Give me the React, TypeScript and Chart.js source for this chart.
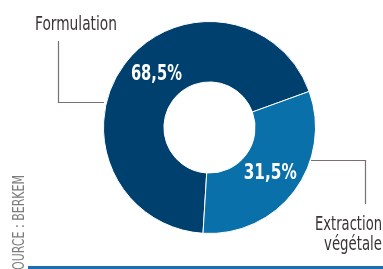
import React, { useEffect, useRef } from "react";
import { Chart, registerables } from "chart.js";

Chart.register(...registerables);

const categories = ["Formulation", "Extraction végétale"];
const shares = [68.5, 31.5];
const valueLabels = ["68,5%", "31,5%"];
const sliceColors = ["#00406f", "#0a70a9"];
const sourceText = "SOURCE : BERKEM";

const NARROW = "'Liberation Sans Narrow', 'DejaVu Sans Condensed', 'Roboto Condensed', sans-serif";

function fitText(
  ctx: CanvasRenderingContext2D,
  text: string,
  x: number,
  y: number,
  align: CanvasTextAlign,
  width: number
) {
  const w = ctx.measureText(text).width;
  const sx = w > 0 ? width / w : 1;
  ctx.save();
  ctx.translate(x, y);
  ctx.scale(sx, 1);
  ctx.textAlign = align;
  ctx.fillText(text, 0, 0);
  ctx.restore();
}

const decorPlugin = {
  id: "decor",
  afterDatasetsDraw(chart: any) {
    const ctx: CanvasRenderingContext2D = chart.ctx;
    const meta = chart.getDatasetMeta(0);
    const arcs = meta.data as any[];
    const labelAngles: (number | null)[] = [315.5, null];
    const labelWidths = [51, 53];

    // value labels inside the ring
    ctx.save();
    ctx.fillStyle = "#ffffff";
    ctx.font = `bold 21px ${NARROW}`;
    ctx.textBaseline = "middle";
    arcs.forEach((arc, i) => {
      const p = arc.getProps(["x", "y", "startAngle", "endAngle", "innerRadius", "outerRadius"], true);
      const a =
        labelAngles[i] != null
          ? ((labelAngles[i] as number) - 90) * (Math.PI / 180)
          : (p.startAngle + p.endAngle) / 2;
      const r = (p.innerRadius + p.outerRadius) / 2;
      const lx = p.x + Math.cos(a) * r;
      const ly = p.y + Math.sin(a) * r;
      fitText(ctx, valueLabels[i], lx, ly + 1, "center", labelWidths[i]);
    });
    ctx.restore();

    // leader lines
    ctx.save();
    ctx.strokeStyle = "#7b6f70";
    ctx.lineWidth = 1.2;
    ctx.beginPath();
    ctx.moveTo(58.5, 41);
    ctx.lineTo(58.5, 102.5);
    ctx.lineTo(104, 102.5);
    ctx.moveTo(311, 160.5);
    ctx.lineTo(365.5, 160.5);
    ctx.lineTo(365.5, 204);
    ctx.stroke();
    ctx.restore();

    // category labels
    ctx.save();
    ctx.fillStyle = "#3a3334";
    ctx.font = `20px ${NARROW}`;
    ctx.textBaseline = "alphabetic";
    fitText(ctx, categories[0], 35, 29.5, "left", 82);
    const parts = categories[1].split(" ");
    fitText(ctx, parts[0], 382, 229.5, "right", 67);
    fitText(ctx, parts[1], 382, 249.5, "right", 58);
    ctx.restore();

    // source, vertical
    ctx.save();
    ctx.fillStyle = "#7c7c7c";
    ctx.font = `15px ${NARROW}`;
    ctx.textBaseline = "middle";
    ctx.translate(20, 175);
    ctx.rotate(-Math.PI / 2);
    fitText(ctx, sourceText, 0, 0, "right", 102);
    ctx.restore();

    // bottom rule
    ctx.save();
    ctx.fillStyle = "#1c6db2";
    ctx.fillRect(28, 266, 383 - 28, 3);
    ctx.restore();
  },
};

export default function App() {
  const ref = useRef<HTMLCanvasElement | null>(null);
  useEffect(() => {
    if (!ref.current) return;
    const chart = new Chart(ref.current, {
      type: "doughnut",
      data: {
        labels: categories,
        datasets: [
          {
            data: shares,
            backgroundColor: sliceColors,
            borderColor: "#ffffff",
            borderWidth: 1,
          },
        ],
      },
      options: {
        responsive: false,
        animation: false,
        rotation: 183.5,
        cutout: "43%",
        layout: { padding: { left: 103, right: 67, top: 21, bottom: 35 } },
        plugins: {
          legend: { display: false },
          tooltip: { enabled: false },
        },
      },
      plugins: [decorPlugin],
    });
    return () => chart.destroy();
  }, []);
  return (
    <div style={{ position: "absolute", left: 0, top: 0, width: 383, height: 269, background: "#ffffff" }}>
      <canvas ref={ref} width={383} height={269} style={{ display: "block" }} />
    </div>
  );
}
